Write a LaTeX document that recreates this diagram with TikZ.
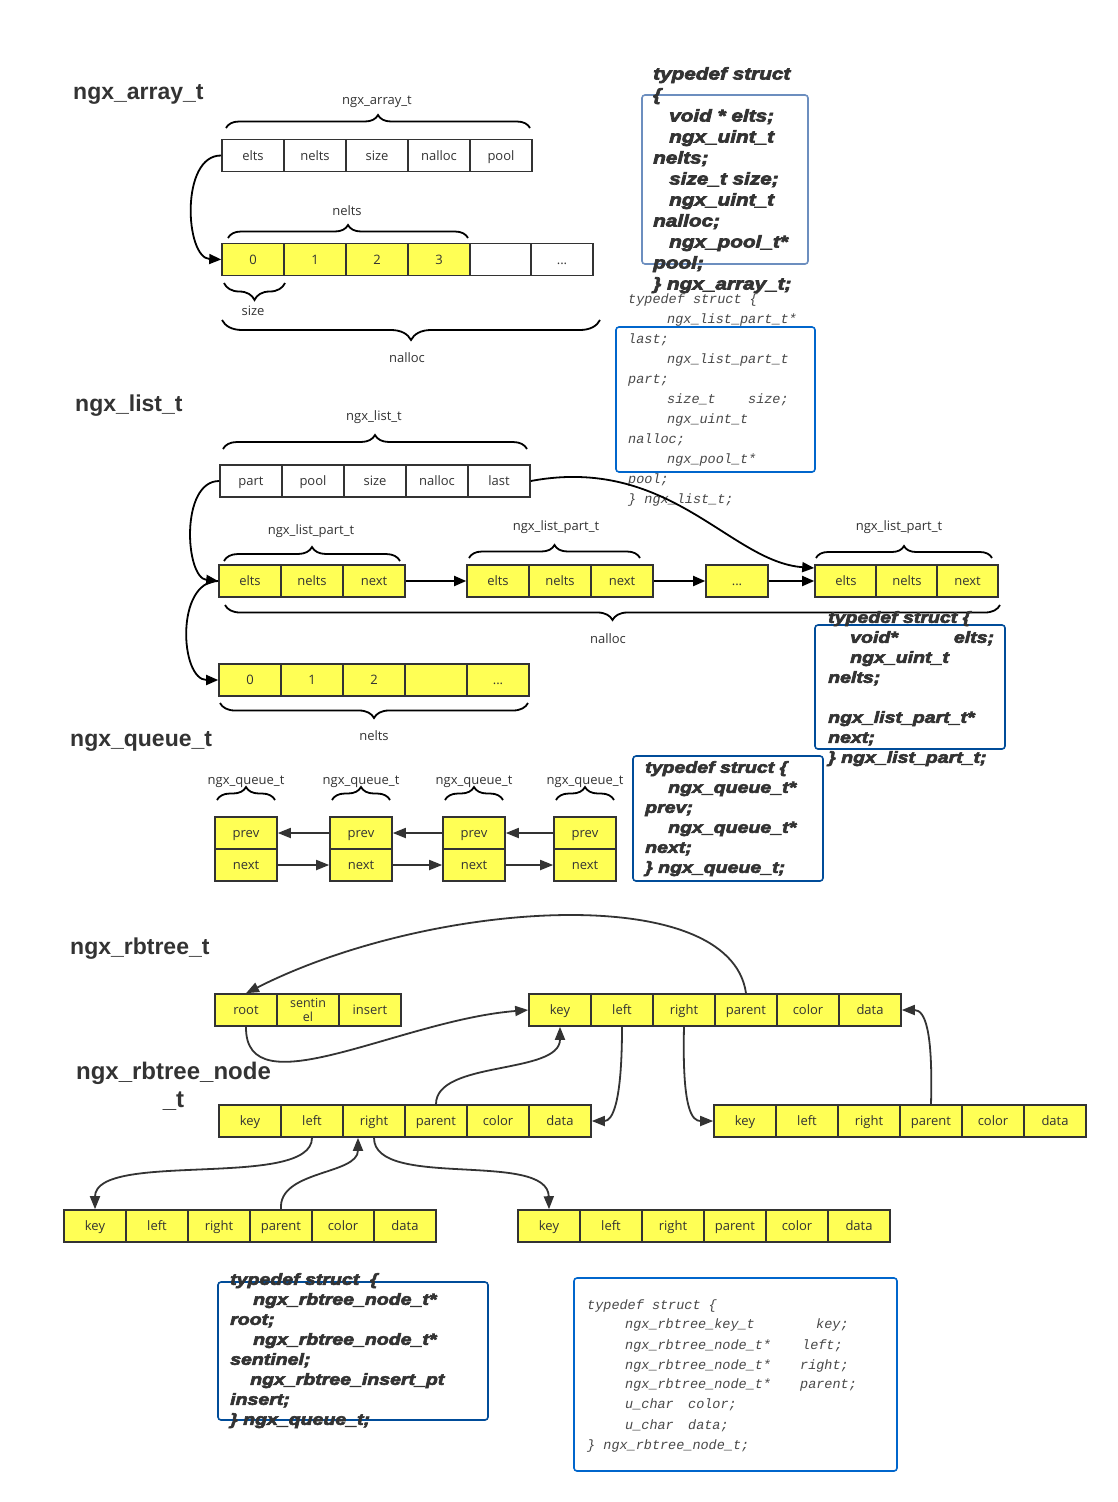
\documentclass[tikz,border=0pt]{standalone}
\usepackage{fontspec}
\setmainfont{Open Sans}
\newfontfamily\titlefont{Liberation Sans}
\newfontfamily\heavyfont[FakeStretch=1.22,FakeBold=4]{Liberation Sans}
\newfontfamily\graymono{Liberation Mono}
\usetikzlibrary{arrows.meta,decorations.pathreplacing,calc}
\definecolor{cellyellow}{HTML}{FFFF55}
\definecolor{ink}{HTML}{333333}
\definecolor{boxA}{HTML}{6C8EBF}
\definecolor{boxB}{HTML}{0066CC}
\definecolor{boxC}{HTML}{004C99}
\definecolor{monogray}{HTML}{484848}
\tikzset{
  cell/.style={draw=ink, line width=1.6pt, minimum width=62pt, minimum height=32pt, inner sep=0pt, text height=11pt, text depth=2pt, font=\fontsize{13}{15}\selectfont, text=ink},
  ycell/.style={cell, fill=cellyellow},
  wcell/.style={cell, fill=white},
  lbl/.style={font=\fontsize{13}{15}\selectfont, text=ink, inner sep=0pt, text height=11pt, text depth=2pt},
  ttl/.style={font=\titlefont\bfseries\fontsize{23}{28}\selectfont, text=ink, inner sep=0pt, anchor=west},
  brc/.style={decorate, decoration={brace, amplitude=#1}, line width=1.8pt, draw=black},
  brcm/.style={decorate, decoration={brace, mirror, amplitude=#1}, line width=1.8pt, draw=black},
  arr/.style={-{Triangle[length=12pt,width=10pt]}, line width=1.8pt, draw=black},
  darr/.style={-{Triangle[length=13pt,width=10pt]}, line width=1.8pt, draw=ink},
  codebox/.style={draw=#1, rounded corners=3pt, line width=1.6pt, inner sep=0pt},
  heavy/.style={font=\heavyfont\bfseries\itshape\fontsize{16}{20}\selectfont, text=ink, align=left, inner sep=0pt, anchor=north west},
  heavyb/.style={font=\heavyfont\bfseries\itshape\fontsize{17}{21}\selectfont, text=ink, align=left, inner sep=0pt, anchor=north west},
  mono/.style={font=\graymono\itshape\fontsize{13.5}{20}\selectfont, text=monogray, align=left, inner sep=0pt, anchor=north west},
}
\begin{document}
\begin{tikzpicture}[x=1pt,y=-1pt]
\fill[white] (0,0) rectangle (1118,1502);
\useasboundingbox (0,0) rectangle (1118,1502);

% ---------------- ngx_array_t ----------------
\node[ttl] (t1) at (73,94) {ngx\_array\_t};
\node[lbl] (l1) at (377,100) {ngx\_array\_t};
\draw[brc=13pt] (226,128) -- (530,128);
\node[wcell] (ah1) at (253,155.5) {elts};
\node[wcell] (ah2) at (315,155.5) {nelts};
\node[wcell] (ah3) at (377,155.5) {size};
\node[wcell] (ah4) at (439,155.5) {nalloc};
\node[wcell] (ah5) at (501,155.5) {pool};
\node[lbl] (l2) at (347,211) {nelts};
\draw[brc=13pt] (228,238) -- (468,238);
\node[ycell] (ae1) at (253,259.5) {0};
\node[ycell] (ae2) at (315,259.5) {1};
\node[ycell] (ae3) at (377,259.5) {2};
\node[ycell] (ae4) at (439,259.5) {3};
\node[wcell] (ae5) at (501,259.5) {};
\node[wcell] (ae6) at (562,259.5) {...};
\draw[brcm=17pt] (224,283) -- (285,283);
\node[lbl] (l3) at (253,311) {size};
\draw[brcm=20pt] (222,320) -- (600,320);
\node[lbl] (l4) at (407,358) {nalloc};
\draw[arr] (ah1.west) .. controls (180,155) and (185,258) .. (ae1.west);

% code box A
\node[codebox=boxA, minimum width=166pt, minimum height=169pt] (boxA) at (725,179.5) {};
\node[heavyb] (codeA) at (653,67) {typedef struct\\\{\\\hspace*{16pt}void * elts;\\\hspace*{16pt}ngx\_uint\_t\\nelts;\\\hspace*{16pt}size\_t size;\\\hspace*{16pt}ngx\_uint\_t\\nalloc;\\\hspace*{16pt}ngx\_pool\_t*\\pool;\\\} ngx\_array\_t;};

% code box B
\node[codebox=boxB, minimum width=199pt, minimum height=145pt] (boxB) at (715.5,399.5) {};
\node[mono] (codeB) at (628,294) {typedef struct \{\\\hspace*{39pt}ngx\_list\_part\_t*\\last;\\\hspace*{39pt}ngx\_list\_part\_t\\part;\\\hspace*{39pt}\makebox[81pt][l]{size\_t}size;\\\hspace*{39pt}ngx\_uint\_t\\nalloc;\\\hspace*{39pt}ngx\_pool\_t*\\pool;\\\} ngx\_list\_t;};

% ---------------- ngx_list_t ----------------
\node[ttl] (t2) at (75,406) {ngx\_list\_t};
\node[lbl] (l5) at (374,416) {ngx\_list\_t};
\draw[brc=14pt] (223,449) -- (527,449);
\node[wcell] (lh1) at (251,481) {part};
\node[wcell] (lh2) at (313,481) {pool};
\node[wcell] (lh3) at (375,481) {size};
\node[wcell] (lh4) at (437,481) {nalloc};
\node[wcell] (lh5) at (499,481) {last};

\node[lbl] (l6) at (311,530) {ngx\_list\_part\_t};
\draw[brc=14pt] (224,561) -- (400,561);
\node[ycell] (p1a) at (250,581) {elts};
\node[ycell] (p1b) at (312,581) {nelts};
\node[ycell] (p1c) at (374,581) {next};

\node[lbl] (l7) at (556,526) {ngx\_list\_part\_t};
\draw[brc=13pt] (469,558) -- (640,558);
\node[ycell] (p2a) at (498,581) {elts};
\node[ycell] (p2b) at (560,581) {nelts};
\node[ycell] (p2c) at (622,581) {next};

\node[ycell] (ldots) at (737,581) {...};

\node[lbl] (l8) at (899,526) {ngx\_list\_part\_t};
\draw[brc=12pt] (816,558) -- (992,558);
\node[ycell] (p3a) at (846,581) {elts};
\node[ycell] (p3b) at (907,581) {nelts};
\node[ycell, minimum width=61pt] (p3c) at (967.5,581) {next};

\draw[brcm=15pt] (225,605) -- (1000,605);
\node[lbl] (l9) at (608,639) {nalloc};

\node[ycell] (le1) at (250,680) {0};
\node[ycell] (le2) at (312,680) {1};
\node[ycell] (le3) at (374,680) {2};
\node[ycell] (le4) at (436,680) {};
\node[ycell] (le5) at (498,680) {...};
\draw[brcm=15pt] (220,703) -- (528,703);
\node[lbl] (l10) at (374,736) {nelts};

\draw[arr] (p1c.east) -- (p2a.west);
\draw[arr] (p2c.east) -- (ldots.west);
\draw[arr] (ldots.east) -- (p3a.west);
\draw[arr] (lh1.west) .. controls (180,481) and (185,578) .. (p1a.west);
\draw[arr] (p1a.west) .. controls (175,581) and (180,680) .. (le1.west);
\draw[arr] (lh5.east) .. controls (670,455) and (730,562) .. ([yshift=13pt]p3a.west);

% code box C
\node[codebox=boxC, minimum width=190pt, minimum height=124pt] (boxC) at (910,687) {};
\node[heavy] (codeC) at (828,611) {typedef struct \{\\\hspace*{22pt}void*\hspace{56pt}elts;\\\hspace*{22pt}ngx\_uint\_t\\nelts;\\\mbox{}\\ngx\_list\_part\_t*\\next;\\\} ngx\_list\_part\_t;};

% ---------------- ngx_queue_t ----------------
\node[ttl] (t3) at (70,741) {ngx\_queue\_t};
\foreach \x [count=\i] in {246,361,474,585} {
  \node[lbl] (ql\i) at (\x,780) {ngx\_queue\_t};
  \draw[brc=13pt] (\x-29,800) -- (\x+29,800);
  \node[ycell] (q\i p) at (\x,833) {prev};
  \node[ycell] (q\i n) at (\x,865) {next};
}
\draw[darr] (q2p.west) -- (q1p.east);
\draw[darr] (q3p.west) -- (q2p.east);
\draw[darr] (q4p.west) -- (q3p.east);
\draw[darr] (q1n.east) -- (q2n.west);
\draw[darr] (q2n.east) -- (q3n.west);
\draw[darr] (q3n.east) -- (q4n.west);

% code box D
\node[codebox=boxC, minimum width=190pt, minimum height=125pt] (boxD) at (728,818.5) {};
\node[heavy] (codeD) at (645,761) {typedef struct \{\\\hspace*{23pt}ngx\_queue\_t*\\prev;\\\hspace*{23pt}ngx\_queue\_t*\\next;\\\} ngx\_queue\_t;};

% ---------------- ngx_rbtree_t ----------------
\node[ttl] (t4) at (70,949) {ngx\_rbtree\_t};
\node[ttl, anchor=center, align=center, font=\titlefont\bfseries\fontsize{24}{28}\selectfont] (t5) at (173.5,1086) {ngx\_rbtree\_node\\\_t};

\node[ycell] (r1) at (246,1010) {root};
\node[ycell, align=center, text height=, text depth=, font=\fontsize{12.5}{14}\selectfont] (r2) at (308,1010) {sentin\\el};
\node[ycell] (r3) at (370,1010) {insert};

\foreach \t [count=\i] in {key,left,right,parent,color,data} {
  \node[ycell] (A\i) at ({560+62*(\i-1)},1010) {\t};
  \node[ycell] (B\i) at ({250+62*(\i-1)},1121) {\t};
  \node[ycell] (C\i) at ({745+62*(\i-1)},1121) {\t};
  \node[ycell] (D\i) at ({95+62*(\i-1)},1226) {\t};
  \node[ycell] (E\i) at ({549+62*(\i-1)},1226) {\t};
}

\draw[darr] (A4.north) .. controls (730,880) and (430,900) .. (r1.north);
\draw[darr] (r1.south) .. controls (245,1110) and (400,1020) .. (A1.west);
\draw[darr] (B4.north) .. controls (436,1060) and (560,1075) .. (A1.south);
\draw[darr] (A2.south) .. controls (622,1105) and (612,1121) .. (B6.east);
\draw[darr] (A3.south) .. controls (682,1110) and (692,1121) .. (C1.west);
\draw[darr] (C4.north) .. controls (933,1030) and (925,1010) .. (A6.east);
\draw[darr] (B2.south) .. controls (312,1190) and (95,1150) .. (D1.north);
\draw[darr] (D4.north) .. controls (278,1170) and (358,1175) .. ([xshift=-16pt]B3.south);
\draw[darr] (B3.south) .. controls (374,1190) and (548,1150) .. (E1.north);

% code box E
\node[codebox=boxC, minimum width=270pt, minimum height=138pt] (boxE) at (353,1351) {};
\node[heavy] (codeE) at (230,1273) {typedef struct \ \{\\\hspace*{23pt}ngx\_rbtree\_node\_t*\\root;\\\hspace*{23pt}ngx\_rbtree\_node\_t*\\sentinel;\\\hspace*{20pt}ngx\_rbtree\_insert\_pt\\insert;\\\} ngx\_queue\_t;};

% code box F
\node[codebox=boxB, minimum width=323pt, minimum height=193pt] (boxF) at (735.5,1374.5) {};
\node[mono] (codeF) at (587,1299) {typedef struct \{\\
\hspace*{38pt}\makebox[191pt][l]{ngx\_rbtree\_key\_t}key;\\
\hspace*{38pt}\makebox[177pt][l]{ngx\_rbtree\_node\_t*}left;\\
\hspace*{38pt}\makebox[175pt][l]{ngx\_rbtree\_node\_t*}right;\\
\hspace*{38pt}\makebox[175pt][l]{ngx\_rbtree\_node\_t*}parent;\\
\hspace*{38pt}\makebox[63pt][l]{u\_char}color;\\
\hspace*{38pt}\makebox[63pt][l]{u\_char}data;\\
\} ngx\_rbtree\_node\_t;};
\end{tikzpicture}
\end{document}
